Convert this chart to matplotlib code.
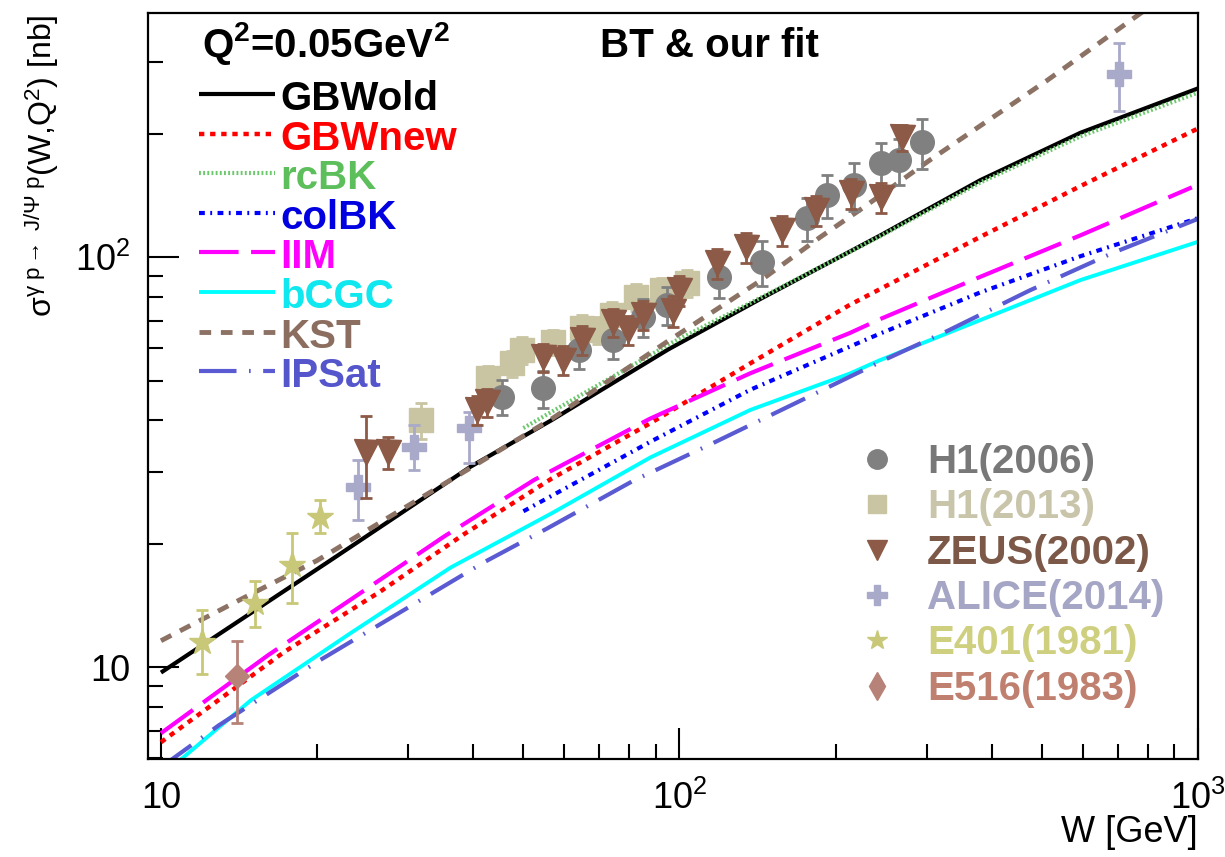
import matplotlib
matplotlib.use('Agg')
import matplotlib.pyplot as plt
from matplotlib.ticker import FixedLocator, FixedFormatter, NullFormatter

plt.rcParams['font.family'] = ['Liberation Sans', 'DejaVu Sans']
plt.rcParams['mathtext.fontset'] = 'custom'
plt.rcParams['mathtext.rm'] = 'Liberation Sans'
plt.rcParams['mathtext.it'] = 'Liberation Sans:italic'
plt.rcParams['mathtext.bf'] = 'Liberation Sans:bold'

# ---- model curves (W [GeV], sigma [nb]) ----
w_gbwold = [10, 21.2, 39.5, 56.6, 95, 143, 244, 380, 593, 1000]
s_gbwold = [9.7, 18.2, 30.8, 40.0, 59.5, 79, 113, 154, 201, 258]

w_gbwnew = [10, 17.3, 26.5, 38.4, 56.6, 88, 137, 213, 380, 593, 1000]
s_gbwnew = [6.56, 10.9, 15.3, 21.1, 28.8, 39.4, 55.1, 76.5, 112, 149, 206]

w_rcbk = [50, 97, 143, 244, 380, 593, 1000]
s_rcbk = [38.3, 62, 79.5, 112.5, 152, 197, 252]

w_colbk = [50, 88, 137, 213, 243, 380, 593, 1000]
s_colbk = [24.0, 35.5, 47.5, 60.5, 65, 82, 100.5, 124.5]

w_iim = [10, 16.1, 23.2, 35.1, 52.4, 87.5, 137, 213, 243, 380, 593, 973]
s_iim = [6.9, 10.7, 14.6, 20.8, 28.6, 40.3, 52.1, 65.3, 70.5, 89.5, 113, 148]

w_bcgc = [10, 11, 14.9, 23.2, 36.2, 56.6, 88, 137, 213, 243, 380, 593, 1000]
s_bcgc = [5.5, 6.0, 8.3, 12.1, 17.5, 23.7, 32.5, 42.4, 52.0, 56.0, 70.2, 87.9, 109]

w_kst = [10, 14.2, 20, 36, 57, 95, 121.6, 143, 187, 226, 305, 512, 800]
s_kst = [11.6, 14.6, 18.2, 28.5, 40.5, 62.4, 76.5, 87.5, 112, 132, 173, 270, 405]

w_ipsat = [10, 12.9, 20, 41.9, 55.6, 81.5, 115, 164, 251, 328, 474, 686, 1000]
s_ipsat = [5.7, 7.2, 10.3, 18.0, 21.8, 28.5, 35.0, 43.5, 56.5, 66.0, 83.0, 102.5, 124]

# ---- data ----
w_h1_06 = [45.4, 54.5, 64.1, 74.3, 84.9, 94.4, 119.4, 144.5, 175.8, 192.8, 217, 245, 265, 294]
s_h1_06 = [45.6, 47.9, 59.3, 62.8, 71.4, 76.4, 89.4, 97.2, 124.5, 141.7, 149.9, 169.4, 172.3, 190.7]
e_h1_06 = [4.5, 5.0, 6.0, 6.5, 7.5, 8.0, 10, 12, 15, 17, 20, 20, 22, 27]

w_h1_13 = [31.8, 42.7, 47.6, 49.8, 56.9, 65.0, 69.5, 74.0, 82.6, 92.7, 103.5]
s_h1_13 = [40.0, 50.7, 55.1, 59.3, 62.1, 67.1, 66.4, 72.3, 79.8, 83.1, 86.4]
e_h1_13 = [4.0, 3.5, 4.0, 4.5, 4.5, 5.0, 5.0, 5.5, 6.0, 6.0, 6.5]

w_zeus = [24.9, 27.4, 40.6, 42.5, 54.5, 59.6, 64.8, 74.3, 79.4, 84.9, 97, 100, 118.3, 134.6, 157.8, 183.5, 214, 245, 269]
s_zeus = [33.4, 33.4, 42.4, 44.3, 57.0, 56.1, 62.8, 69.3, 66.4, 72.3, 74, 83.1, 96.7, 105.8, 116.3, 130.2, 143.3, 140, 196]
e_zeus = [7.5, 3.0, 3.5, 3.5, 4.5, 4.5, 5.0, 5.5, 5.5, 6.0, 6.5, 7.0, 8.0, 9.0, 10.0, 11.0, 12.0, 12.0, 14.0]

w_alice = [24.0, 30.8, 39.3, 704.5]
s_alice = [27.5, 34.4, 38.3, 279]
elo_alice = [4.6, 4.2, 6.8, 52]
ehi_alice = [4.5, 4.5, 3.6, 53]

w_e401 = [12.0, 15.2, 17.9, 20.3]
s_e401 = [11.5, 14.3, 17.7, 23.2]
elo_e401 = [1.9, 1.8, 3.4, 2.0]
ehi_e401 = [2.3, 1.9, 3.5, 2.3]

w_e516 = [14.0]
s_e516 = [9.5]
elo_e516 = [2.2]
ehi_e516 = [2.1]

fig = plt.figure(figsize=(12.25, 8.57), dpi=100)
ax = fig.add_axes([148/1225, 98/857, 1050/1225, 746/857])
ax.set_xscale('log')
ax.set_yscale('log')
ax.set_xlim(9.44, 1000)
ax.set_ylim(5.97, 394)

# models: (label, x, y, color, textcolor, lw, dashes)
models = [
    ('GBWold', w_gbwold, s_gbwold, 'black', 'black', 3.0, None),
    ('GBWnew', w_gbwnew, s_gbwnew, '#ff0000', '#ff0000', 3.2, (1.2, 1.3)),
    ('rcBK', w_rcbk, s_rcbk, '#6cc86c', '#5cbf5c', 3.0, (0.45, 0.55)),
    ('colBK', w_colbk, s_colbk, '#0000ff', '#0000e0', 3.0, (1.4, 1.3, 0.45, 1.3)),
    ('IIM', w_iim, s_iim, '#ff00ff', '#ff00ff', 3.0, (9.5, 3.0)),
    ('bCGC', w_bcgc, s_bcgc, '#00ffff', '#10e8f0', 2.8, None),
    ('KST', w_kst, s_kst, '#8c7264', '#8c6e60', 3.5, (2.4, 2.0)),
    ('IPSat', w_ipsat, s_ipsat, '#5a5ad2', '#5555cc', 3.0, (9.0, 3.0, 0.4, 3.0)),
]

for name, x, y, c, tc, lw, d in models:
    ln, = ax.plot(x, y, color=c, lw=lw, solid_capstyle='butt', zorder=2)
    if d is not None:
        ln.set_dashes(d)

# data points
ax.errorbar(w_h1_06, s_h1_06, yerr=e_h1_06, fmt='o', ms=17, color='#808080',
            ecolor='#808080', elinewidth=2, capsize=4, capthick=2, zorder=4)
ax.errorbar(w_h1_13, s_h1_13, yerr=e_h1_13, fmt='s', ms=17, color='#c9c4a2',
            ecolor='#c9c4a2', elinewidth=2, capsize=4, capthick=2, zorder=3)
ax.errorbar(w_zeus, s_zeus, yerr=e_zeus, fmt='v', ms=18, color='#8c5a46',
            ecolor='#8c5a46', elinewidth=2, capsize=4, capthick=2, zorder=5)
ax.errorbar(w_alice, s_alice, yerr=[elo_alice, ehi_alice], fmt='P', ms=17, color='#a9a9c9',
            ecolor='#a9a9c9', elinewidth=2, capsize=4, capthick=2, zorder=4)
ax.errorbar(w_e401, s_e401, yerr=[elo_e401, ehi_e401], fmt='*', ms=20, color='#c8c878',
            ecolor='#c8c878', elinewidth=2, capsize=4, capthick=2, zorder=4)
ax.errorbar(w_e516, s_e516, yerr=[elo_e516, ehi_e516], fmt='D', ms=12, color='#b78278',
            ecolor='#b78278', elinewidth=2, capsize=4, capthick=2, zorder=4)

# ticks
ax.xaxis.set_major_locator(FixedLocator([10, 100, 1000]))
ax.xaxis.set_major_formatter(FixedFormatter(['10', r'$10^{2}$', r'$10^{3}$']))
ax.xaxis.set_minor_locator(FixedLocator([20, 30, 40, 50, 60, 70, 80, 90,
                                         200, 300, 400, 500, 600, 700, 800, 900]))
ax.xaxis.set_minor_formatter(NullFormatter())
ax.yaxis.set_major_locator(FixedLocator([10, 100]))
ax.yaxis.set_major_formatter(FixedFormatter(['10', r'$10^{2}$']))
ax.yaxis.set_minor_locator(FixedLocator([6, 7, 8, 9, 20, 30, 40, 50, 60, 70, 80, 90, 200, 300]))
ax.yaxis.set_minor_formatter(NullFormatter())
ax.tick_params(which='both', direction='in', top=False, right=False, width=1.5, labelsize=26)
ax.tick_params(which='major', length=22)
ax.tick_params(which='minor', length=11)
ax.tick_params(axis='x', pad=16)
ax.tick_params(axis='y', pad=13)
for sp in ax.spines.values():
    sp.set_linewidth(1.6)

# header texts
ax.text(0.0514, 0.941, r'Q$^{\mathbf{2}}$=0.05GeV$^{\mathbf{2}}$', transform=ax.transAxes,
        fontsize=29, fontweight='bold', va='baseline', ha='left')
ax.text(0.4305, 0.941, 'BT & our fit', transform=ax.transAxes,
        fontsize=29, fontweight='bold', va='baseline', ha='left')

# model legend
base0 = 110
step = 39.6
for i, (name, x, y, c, tc, lw, d) in enumerate(models):
    b = base0 + i * step
    yb = (759 - b) / 746
    yl = (759 - (b - 16)) / 746
    ln, = ax.plot([0.0486, 0.121], [yl, yl], transform=ax.transAxes, color=c, lw=lw,
                  solid_capstyle='butt', clip_on=False)
    if d is not None:
        ln.set_dashes(d)
    ax.text(0.1257, yb, name, transform=ax.transAxes, color=tc, fontsize=29,
            fontweight='bold', va='baseline', ha='left')

# data legend
data_leg = [
    ('H1(2006)', 'o', 14, '#808080', '#787878'),
    ('H1(2013)', 's', 13, '#c9c4a2', '#c9c5ab'),
    ('ZEUS(2002)', 'v', 14, '#8c5a46', '#7c5848'),
    ('ALICE(2014)', 'P', 14, '#a9a9c9', '#a5a5c5'),
    ('E401(1981)', '*', 15, '#c8c878', '#cfcf80'),
    ('E516(1983)', 'd', 14, '#b78278', '#c08070'),
]
for i, (name, m, ms, c, tc) in enumerate(data_leg):
    b = 473 + i * 45.3
    yb = (759 - b) / 746
    ym = (759 - (b - 14)) / 746
    ax.plot([0.694], [ym], marker=m, ms=ms, color=c, transform=ax.transAxes,
            linestyle='none', clip_on=False)
    ax.text(0.742, yb, name, transform=ax.transAxes, color=tc, fontsize=29,
            fontweight='bold', va='baseline', ha='left')

# axis titles
fig.text(1198/1225, 1 - 842/857, 'W [GeV]', fontsize=26, ha='right', va='baseline')
fig.text(42/1225, 1 - 14/857,
         r'$\mathrm{\sigma^{\gamma\ p\rightarrow\ J/\Psi\ p}}$(W,Q$^{2}$) [nb]',
         fontsize=23, rotation=90, ha='center', va='top')

fig.savefig('out.png', dpi=100)
